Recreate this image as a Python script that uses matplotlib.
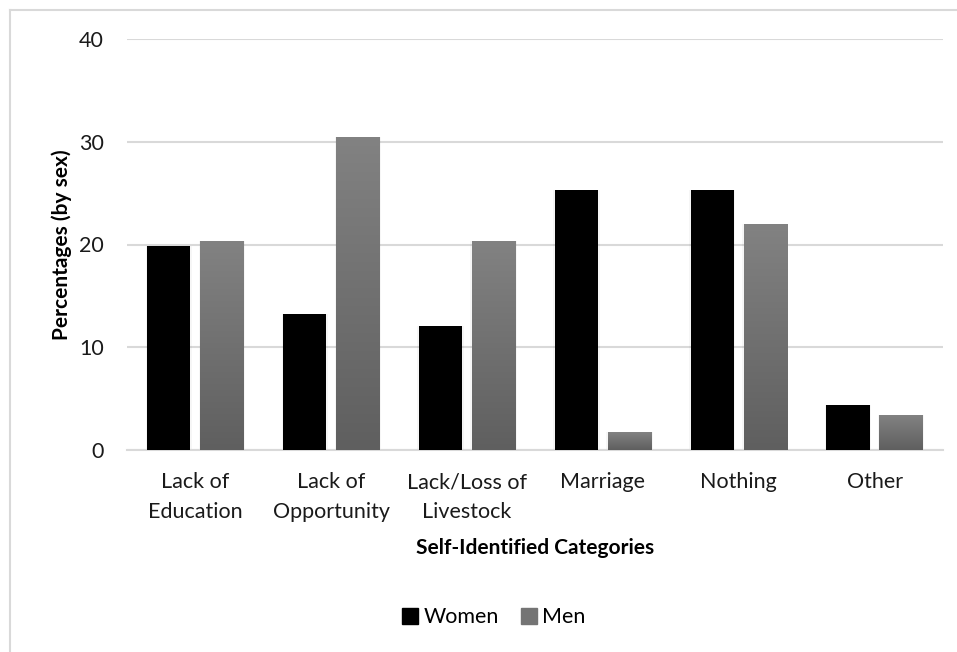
import numpy as np
import matplotlib.pyplot as plt
from matplotlib.lines import Line2D
from matplotlib.patches import Rectangle

categories = ['Lack of\nEducation', 'Lack of\nOpportunity', 'Lack/Loss of\nLivestock',
              'Marriage', 'Nothing', 'Other']
women = [19.9, 13.2, 12.1, 25.3, 25.3, 4.4]
men = [20.3, 30.5, 20.3, 1.7, 22.0, 3.4]

plt.rcParams['font.family'] = ['Lato', 'DejaVu Sans']

fig = plt.figure(figsize=(9.57, 6.52), dpi=100)
ax = fig.add_axes([0.133, 0.31, 0.852, 0.63])

x = np.arange(len(categories))
w = 0.32
gap = 0.07
grey_map = plt.matplotlib.colors.LinearSegmentedColormap.from_list('g', ['#5f5f5f', '#828282'])
grad = np.linspace(0, 1, 256).reshape(-1, 1)

for i in range(len(categories)):
    xw = x[i] - gap / 2 - w
    xm = x[i] + gap / 2
    # faint shadow behind each bar
    for xx, h in ((xw, women[i]), (xm, men[i])):
        ax.add_patch(Rectangle((xx - 0.01, -0.2), w + 0.02, h + 0.2,
                               facecolor='#000000', alpha=0.035, lw=0, zorder=2))
    ax.bar(xw, women[i], width=w, align='edge', color='black', zorder=3)
    bm = ax.bar(xm, men[i], width=w, align='edge', color='none', zorder=3)[0]
    im = ax.imshow(grad, extent=(xm, xm + w, 0, men[i]), origin='lower',
                   cmap=grey_map, aspect='auto', zorder=3)
    im.set_clip_path(bm)

ax.set_xlim(-0.5, len(categories) - 0.5)
ax.set_ylim(0, 40)
ax.set_yticks([0, 10, 20, 30, 40])
ax.set_xticks(x)
ax.set_xticklabels(categories, fontsize=15.5, color='#1a1a1a', linespacing=1.62)
ax.tick_params(axis='y', labelsize=15.5, labelcolor='#1a1a1a', length=0, pad=17)
ax.tick_params(axis='x', length=0, pad=16)
ax.yaxis.grid(True, color='#d9d9d9', lw=1.5, zorder=0)
ax.set_axisbelow(True)
for s in ('top', 'right', 'left'):
    ax.spines[s].set_visible(False)
ax.spines['bottom'].set_color('#d9d9d9')
ax.spines['bottom'].set_linewidth(1.5)

ax.set_ylabel('Percentages (by sex)', fontsize=15, fontweight='bold', color='black', va='center')
ax.yaxis.set_label_coords(-0.08, 0.5)
ax.set_xlabel('Self-Identified Categories', fontsize=15, fontweight='bold', color='black', va='center')
ax.xaxis.set_label_coords(0.5, -0.238)

handles = [Rectangle((0, 0), 1, 1, color='black'), Rectangle((0, 0), 1, 1, color='#747474')]
fig.legend(handles, ['Women', 'Men'], loc='center', bbox_to_anchor=(0.516, 0.053), ncol=2,
           frameon=False, fontsize=15.5, handlelength=0.75, handleheight=0.75,
           handletextpad=0.25, columnspacing=1.0)

# outer chart frame
fig.add_artist(Line2D([0.0105, 0.0105], [0, 0.985], color='#d9d9d9', lw=1.5))
fig.add_artist(Line2D([0.0105, 1.0], [0.985, 0.985], color='#d9d9d9', lw=1.5))

fig.savefig('out.png', dpi=100)
